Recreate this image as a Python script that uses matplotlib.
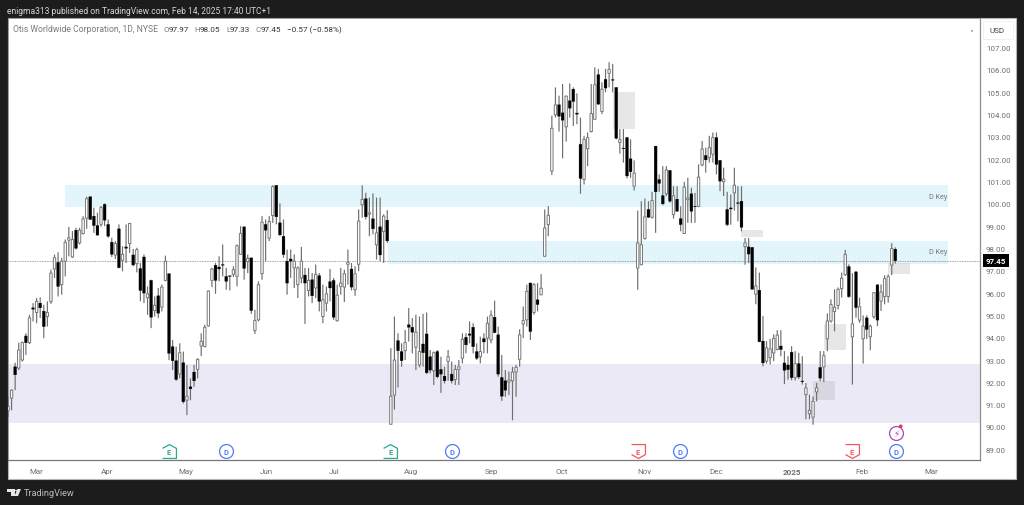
import matplotlib
matplotlib.use("Agg")
import matplotlib.pyplot as plt
from matplotlib.patches import Rectangle, Polygon, Circle

plt.rcParams['font.family'] = ['Roboto', 'DejaVu Sans']

# daily OHLC, Otis 1D
opens = [
    90.72, 91.29, 92.70, 92.64, 93.00, 94.08, 93.78, 95.34, 95.13, 95.55,
    95.19, 94.95, 95.61, 97.08, 97.38, 96.38, 97.43, 98.37, 97.62, 98.82,
    98.25, 98.67, 99.36, 100.32, 99.45, 99.03, 99.08, 99.98, 99.08, 98.28,
    97.71, 98.88, 97.47, 98.07, 98.22, 97.71, 97.32, 97.10, 97.62, 95.79,
    96.57, 95.22, 95.88, 95.37, 96.57, 96.87, 93.60, 92.97, 92.37, 92.88,
    91.20, 91.80, 92.46, 92.58, 93.63, 93.60, 94.53, 96.57, 97.25, 97.17,
    97.28, 96.75, 96.78, 96.84, 96.75, 97.74, 98.97, 97.41, 97.58, 94.32,
    94.80, 96.87, 99.08, 98.46, 99.48, 100.83, 99.15, 98.55, 97.43, 97.53,
    97.13, 96.38, 96.68, 96.81, 96.12, 96.60, 96.23, 96.78, 94.95, 95.55,
    96.51, 96.57, 94.76, 96.30, 96.27, 97.29, 97.08, 96.15, 97.29, 99.96,
    100.23, 99.54, 99.33, 98.16, 98.97, 98.76, 99.27, 90.12, 91.43, 93.87,
    93.38, 93.42, 94.58, 94.47, 93.57, 92.78, 93.72, 94.17, 93.15, 92.52,
    93.38, 92.58, 92.28, 92.94, 92.37, 92.13, 92.58, 93.08, 94.02, 94.17,
    94.47, 93.38, 93.15, 93.96, 93.98, 93.90, 94.92, 94.13, 92.22, 92.07,
    92.01, 92.07, 92.46, 93.03, 94.62, 94.80, 96.45, 95.13, 95.70, 95.92,
    97.65, 99.07, 101.47, 103.99, 104.44, 104.08, 103.45, 104.62, 105.14, 104.07,
    102.67, 101.09, 102.47, 103.24, 103.79, 105.79, 104.14, 105.58, 105.85, 105.57,
    105.22, 102.75, 102.50, 102.97, 102.02, 100.79, 97.12, 97.27, 98.44, 99.75,
    99.40, 102.59, 101.09, 100.37, 100.45, 101.50, 99.52, 100.21, 99.34, 98.67,
    100.19, 100.45, 99.89, 99.89, 101.74, 102.17, 102.07, 102.22, 102.97, 101.95,
    100.99, 99.75, 99.82, 100.49, 100.05, 100.12, 98.08, 98.07, 98.05, 95.95,
    96.13, 93.85, 92.95, 93.11, 93.32, 93.47, 93.63, 92.87, 92.78, 93.35,
    92.22, 92.84, 92.06, 91.45, 90.59, 90.44, 91.57, 92.67, 92.69, 93.95,
    94.75, 95.17, 95.45, 96.20, 96.82, 97.19, 94.04, 96.95, 94.79, 93.95,
    94.89, 94.04, 94.94, 96.37, 95.64, 95.84, 95.84, 97.25, 97.97,
]
highs = [
    91.35, 91.68, 92.88, 93.78, 93.83, 94.20, 95.03, 95.55, 95.78, 95.81,
    95.48, 95.63, 97.05, 97.73, 97.83, 97.58, 98.40, 98.97, 98.78, 98.93,
    98.93, 99.45, 100.32, 100.32, 99.83, 99.60, 99.90, 100.02, 99.30, 98.48,
    98.33, 99.08, 98.10, 99.08, 99.15, 97.98, 98.03, 97.35, 97.73, 96.30,
    96.60, 95.85, 96.23, 96.38, 97.68, 96.87, 93.90, 93.60, 93.75, 93.38,
    92.78, 92.18, 92.78, 93.08, 94.20, 94.58, 96.12, 97.13, 97.35, 97.65,
    98.18, 97.13, 96.78, 97.20, 98.18, 99.00, 98.97, 97.73, 97.58, 95.25,
    96.53, 99.45, 99.30, 99.45, 100.83, 100.83, 100.02, 99.30, 97.95, 97.95,
    97.73, 97.20, 98.07, 97.13, 97.13, 96.90, 97.28, 96.90, 96.38, 96.30,
    97.08, 96.68, 96.38, 97.13, 97.05, 97.95, 97.35, 97.20, 99.75, 100.83,
    100.50, 100.28, 100.47, 100.28, 100.28, 99.53, 99.72, 93.53, 94.95, 94.20,
    93.75, 94.35, 95.33, 94.88, 95.03, 94.95, 95.07, 95.13, 93.45, 93.38,
    93.45, 93.15, 92.70, 93.45, 92.93, 92.78, 93.00, 94.20, 94.20, 94.73,
    94.65, 93.75, 94.05, 94.20, 94.95, 95.22, 95.66, 94.50, 93.23, 92.55,
    92.48, 92.70, 92.78, 94.38, 95.40, 96.38, 96.48, 96.45, 96.45, 96.85,
    99.75, 99.90, 103.95, 105.22, 104.85, 105.37, 104.85, 105.40, 105.22, 104.95,
    103.87, 103.05, 103.20, 105.37, 106.12, 106.05, 105.45, 106.05, 106.35, 106.27,
    105.22, 103.35, 103.35, 103.00, 102.89, 101.95, 99.70, 100.12, 100.24, 100.12,
    100.54, 102.59, 101.32, 101.69, 101.69, 101.50, 100.79, 100.79, 99.89, 100.99,
    101.17, 100.72, 100.49, 101.77, 102.82, 102.52, 103.05, 103.20, 103.20, 101.95,
    101.62, 100.54, 100.42, 101.62, 100.79, 100.79, 98.47, 98.47, 98.05, 97.15,
    96.92, 94.97, 93.85, 93.95, 94.15, 94.34, 94.34, 93.40, 93.17, 93.62,
    93.40, 93.32, 93.17, 91.97, 91.45, 91.37, 91.97, 93.40, 93.40, 95.09,
    95.72, 96.17, 96.25, 96.92, 97.94, 97.29, 96.89, 96.99, 95.79, 95.00,
    95.00, 94.59, 96.05, 96.39, 96.39, 96.80, 96.84, 98.24, 98.05,
]
lows = [
    90.45, 90.75, 91.65, 92.55, 92.93, 93.23, 93.72, 94.73, 94.65, 94.88,
    93.98, 94.50, 95.52, 96.68, 95.85, 95.93, 96.75, 97.65, 97.58, 97.95,
    98.18, 98.63, 98.88, 99.30, 98.70, 98.58, 98.97, 99.00, 98.48, 97.62,
    97.53, 97.11, 96.98, 97.35, 97.80, 97.20, 96.93, 95.63, 95.55, 95.03,
    94.43, 94.95, 94.88, 95.18, 96.53, 93.00, 92.55, 92.07, 92.18, 91.05,
    90.53, 91.20, 91.80, 92.18, 93.18, 93.57, 94.50, 96.27, 95.97, 96.53,
    96.75, 96.15, 96.12, 96.72, 96.30, 97.73, 96.60, 96.90, 95.07, 94.17,
    94.73, 96.60, 97.43, 98.33, 99.15, 99.08, 98.55, 97.58, 95.93, 96.68,
    96.23, 95.78, 96.45, 94.62, 95.85, 95.55, 95.78, 95.18, 94.65, 95.18,
    95.63, 94.80, 94.73, 95.93, 95.60, 96.38, 96.12, 95.88, 96.98, 99.38,
    99.30, 98.55, 98.63, 97.50, 97.43, 97.35, 98.25, 90.12, 90.78, 91.77,
    92.70, 93.00, 93.83, 93.30, 92.55, 92.67, 92.70, 92.37, 92.40, 91.88,
    92.18, 91.53, 91.95, 92.07, 91.95, 91.88, 91.88, 92.85, 93.30, 93.75,
    93.30, 93.00, 92.85, 93.30, 93.30, 93.75, 94.20, 92.25, 91.17, 91.35,
    91.43, 90.30, 91.35, 92.70, 93.98, 94.50, 93.90, 95.03, 95.18, 95.92,
    97.65, 98.55, 101.29, 103.87, 103.24, 102.04, 102.79, 103.87, 103.49, 103.57,
    100.45, 100.87, 101.69, 103.20, 103.79, 104.44, 104.02, 105.00, 105.22, 105.00,
    102.89, 102.25, 101.85, 101.14, 101.17, 100.60, 96.15, 97.27, 98.40, 99.37,
    99.34, 98.70, 100.54, 99.94, 100.35, 100.05, 99.34, 99.64, 98.77, 98.65,
    99.15, 99.15, 99.15, 99.85, 101.69, 101.40, 101.85, 101.85, 101.32, 100.57,
    100.35, 99.00, 99.07, 99.70, 99.22, 98.77, 97.27, 97.35, 96.17, 95.50,
    93.80, 92.72, 92.84, 92.80, 92.95, 93.44, 93.17, 91.92, 92.12, 92.09,
    92.09, 92.15, 91.90, 90.35, 90.35, 90.10, 91.15, 92.05, 92.01, 93.40,
    94.67, 94.29, 95.27, 95.80, 96.77, 95.79, 91.90, 94.90, 94.67, 92.84,
    93.95, 93.44, 94.85, 94.52, 95.20, 95.50, 95.57, 96.80, 97.33,
]
closes = [
    90.93, 91.65, 92.34, 93.45, 93.78, 93.78, 94.89, 95.28, 95.63, 95.34,
    94.50, 95.13, 96.90, 97.59, 96.30, 97.43, 98.28, 98.48, 98.40, 98.01,
    98.82, 99.33, 100.23, 99.30, 99.03, 98.60, 99.84, 99.27, 98.55, 97.74,
    98.22, 97.14, 97.74, 98.01, 99.12, 97.26, 97.95, 96.12, 96.00, 95.97,
    94.92, 95.46, 95.10, 96.27, 97.43, 93.30, 92.97, 92.13, 93.33, 91.13,
    91.38, 91.71, 92.07, 93.03, 93.84, 94.47, 96.09, 97.08, 96.57, 97.08,
    97.25, 96.53, 96.75, 97.05, 98.13, 98.67, 97.11, 97.56, 95.22, 94.77,
    96.38, 99.18, 98.82, 99.21, 100.77, 99.42, 98.61, 97.73, 96.45, 97.43,
    97.43, 97.13, 97.43, 96.45, 96.57, 95.88, 96.84, 95.63, 95.70, 95.97,
    96.23, 94.92, 95.91, 96.45, 96.87, 97.38, 96.27, 96.87, 99.23, 100.20,
    99.42, 99.60, 98.88, 98.70, 97.71, 99.45, 98.34, 91.38, 93.00, 93.42,
    92.97, 93.78, 94.47, 94.25, 94.25, 93.38, 93.33, 92.43, 92.55, 93.33,
    92.25, 92.37, 92.07, 93.15, 92.07, 92.58, 92.70, 93.93, 93.68, 94.11,
    93.60, 93.08, 93.38, 93.81, 94.65, 95.01, 94.23, 92.37, 91.38, 91.65,
    92.10, 92.46, 92.67, 94.13, 94.77, 96.08, 94.28, 96.38, 95.49, 96.22,
    98.92, 99.49, 103.39, 104.44, 103.93, 103.75, 104.83, 104.29, 104.59, 104.02,
    101.14, 102.89, 102.97, 104.05, 105.34, 104.47, 105.14, 105.19, 106.03, 105.54,
    102.94, 102.88, 102.47, 101.25, 101.44, 101.38, 98.25, 98.17, 99.42, 99.40,
    100.15, 100.54, 100.92, 100.00, 101.52, 100.12, 100.36, 99.67, 99.07, 100.75,
    100.27, 99.67, 99.87, 101.20, 102.46, 101.97, 102.52, 102.97, 101.77, 101.02,
    101.11, 99.07, 99.77, 100.84, 100.02, 98.95, 98.25, 97.75, 96.17, 96.32,
    93.82, 92.87, 93.55, 93.50, 93.97, 94.12, 93.47, 92.54, 92.57, 92.21,
    92.84, 92.24, 92.03, 91.75, 90.74, 91.15, 91.75, 92.19, 93.20, 94.75,
    95.49, 95.37, 96.17, 96.67, 97.74, 95.84, 94.62, 95.35, 95.39, 94.52,
    94.37, 94.52, 96.02, 94.79, 96.05, 96.65, 96.74, 98.00, 97.45,
]

price_ticks = [89, 90, 91, 92, 93, 94, 95, 96, 97, 98, 99, 100, 101, 102, 103, 104, 105, 106, 107]
month_labels = ["Mar", "Apr", "May", "Jun", "Jul", "Aug", "Sep", "Oct", "Nov", "Dec", "2025", "Feb", "Mar"]
month_pos = [7.8, 27.7, 49.8, 72.1, 91.1, 112.6, 135.0, 154.8, 178.0, 197.9, 219.1, 238.7, 258.0]

# zones: start bar, end bar, low, high
key_start = [15.9, 106.2]
key_end = [262.7, 262.7]
key_low = [99.86, 97.32]
key_high = [100.85, 98.35]
key_label_y = [100.35, 97.85]

demand_low = 90.18
demand_high = 92.82

gap_start = [169.0, 204.9, 228.0, 225.0, 246.0]
gap_end = [175.2, 211.0, 234.1, 231.1, 252.1]
gap_low = [103.37, 98.53, 93.44, 91.21, 96.84]
gap_high = [105.00, 98.81, 94.63, 92.06, 97.34]

earnings_up = [45.0, 106.8]
earnings_down = [176.0, 235.9]
dividends = [60.9, 124.1, 187.8, 248.2]
flash_bar = 248.2

W, H = 1024, 506
BG = "#1c1c1c"
GREY = "#6f6f6f"
UP_EDGE = "#777777"
WICK = "#6e6e6e"


def fx(x):
    return x / W


def fy(y):
    return 1 - y / H


fig = plt.figure(figsize=(W / 100, H / 100), dpi=100, facecolor=BG)
fig.add_artist(Rectangle((fx(8), fy(480)), (1016 - 8) / W, (480 - 19) / H, transform=fig.transFigure,
                         fc="white", ec="#b5b5b5", lw=0.8, zorder=-1))

ax = fig.add_axes([fx(8), fy(461), (980 - 8) / W, (461 - 19) / H])
ax.set_xlim(0, 271.66)
ax.set_ylim(88.52, 108.33)
for side in ["top", "left"]:
    ax.spines[side].set_color("#9a9a9a")
    ax.spines[side].set_linewidth(0.7)
ax.spines["right"].set_color("#8f8f8f")
ax.spines["right"].set_linewidth(0.9)
ax.spines["bottom"].set_color("#777777")
ax.spines["bottom"].set_linewidth(0.9)

ax.yaxis.tick_right()
ax.set_yticks(price_ticks)
ax.set_yticklabels([f"{p:.2f}" for p in price_ticks], fontsize=5.7, color=GREY)
ax.tick_params(axis="y", length=0, pad=4.2)
ax.set_xticks(month_pos)
ax.set_xticklabels(month_labels, fontsize=5.8, color=GREY)
ax.get_xticklabels()[10].set_fontweight("bold")
ax.tick_params(axis="x", length=0, pad=6)

# zones
ax.axhspan(demand_low, demand_high, color="#ece9f6", lw=0, zorder=1)
for i in range(2):
    ax.add_patch(Rectangle((key_start[i], key_low[i]), key_end[i] - key_start[i], key_high[i] - key_low[i],
                           fc="#e2f5fa", ec="none", zorder=1))
    ax.text(key_end[i] - 0.3, key_label_y[i], "D Key", fontsize=5.2, color="#777777", ha="right", va="center", zorder=5)
for i in range(5):
    ax.add_patch(Rectangle((gap_start[i], gap_low[i]), gap_end[i] - gap_start[i], gap_high[i] - gap_low[i],
                           fc="#8a8a8a", alpha=0.2, ec="none", zorder=2))

# last price line
ax.axhline(closes[-1], color="#808080", lw=0.6, ls=(0, (1, 1)), zorder=2)

# candles
bars = list(range(len(closes)))
wicks = ax.vlines(bars, lows, highs, color=WICK, lw=0.85, zorder=3)
wicks.set_snap(False)
for i in bars:
    bottom = min(opens[i], closes[i])
    height = abs(closes[i] - opens[i])
    if closes[i] >= opens[i]:
        ax.bar(i, height, 0.66, bottom, fc="white", ec=UP_EDGE, lw=0.7, zorder=4, snap=False)
    else:
        ax.bar(i, height, 0.8, bottom, fc="black", ec="black", lw=0.2, zorder=4, snap=False)

# event marks
icon_y = 88.92
house = [(-1, -1), (1, -1), (1, 0.45), (0, 1), (-1, 0.45)]
vee = [(-1, 1), (1, 1), (1, -0.45), (0, -1), (-1, -0.45)]
ax.scatter(earnings_up, [icon_y] * 2, marker=house, s=100, fc="white", ec="#2aa892", lw=0.9, zorder=6)
ax.scatter(earnings_down, [icon_y] * 2, marker=vee, s=100, fc="white", ec="#f2555f", lw=0.9, zorder=6)
ax.scatter(dividends, [icon_y] * 4, marker="o", s=100, fc="white", ec="#4d7cf5", lw=0.9, zorder=6)
for b in earnings_up:
    ax.text(b, icon_y, "E", fontsize=5.5, fontweight="bold", color="#2aa892", ha="center", va="center", zorder=7)
for b in earnings_down:
    ax.text(b, icon_y, "E", fontsize=5.5, fontweight="bold", color="#f2555f", ha="center", va="center", zorder=7)
for b in dividends:
    ax.text(b, icon_y, "D", fontsize=5.5, fontweight="bold", color="#4d7cf5", ha="center", va="center", zorder=7)
ax.scatter([flash_bar], [89.73], marker="o", s=100, fc="white", ec="#ab47bc", lw=0.9, zorder=6)
ax.text(flash_bar, 89.73, "\u26a1", fontsize=6.5, color="#ab47bc", family="DejaVu Sans", ha="center", va="center", zorder=7)
ax.scatter([flash_bar + 1.3], [90.03], marker="o", s=7, fc="#f23645", ec="none", zorder=8)

# stray dot near the top right of the pane
ax.scatter([269.4], [107.75], marker="o", s=1.2, fc="#555555", ec="none", zorder=3)

# last price tag
ax.text(1 + 6 / 972, closes[-1], f"{closes[-1]:.2f}", transform=ax.get_yaxis_transform(), fontsize=5.7,
        fontweight="bold", color="white", ha="left", va="center", zorder=9, clip_on=False,
        bbox=dict(boxstyle="square,pad=0.35", fc="black", ec="none"))

# header text
fig.text(fx(7), fy(11), "enigma313 published on TradingView.com, Feb 14, 2025 17:40 UTC+1", fontsize=6.15,
         color="#d6d6d6", va="center")
fig.text(fx(13), fy(30), "Otis Worldwide Corporation, 1D, NYSE", fontsize=6.2, color="#7a7a7a", va="center")
legend_x = [163, 168.5, 194, 199.5, 226, 230, 256, 261, 287]
legend_txt = ["O", "97.97", "H", "98.05", "L", "97.33", "C", "97.45", "\u22120.57 (\u22120.58%)"]
for i in range(len(legend_x)):
    fig.text(fx(legend_x[i]), fy(30), legend_txt[i], fontsize=5.85, va="center",
             color="#7a7a7a" if i in (0, 2, 4, 6) else "#333333")

# USD button
fig.add_artist(Rectangle((fx(983), fy(40)), 30 / W, 18 / H, transform=fig.transFigure, fc="white", ec="#eeeeee", lw=0.6))
fig.text(fx(997), fy(31), "USD", fontsize=5.9, color="#444444", ha="center", va="center")

# footer logo
logo = "#e6e6e6"
fig.add_artist(Polygon([(fx(7), fy(490)), (fx(15), fy(490)), (fx(15), fy(497)), (fx(11), fy(497)),
                        (fx(11), fy(493)), (fx(7), fy(493))], transform=fig.transFigure, fc=logo, ec="none"))
fig.add_artist(Polygon([(fx(17.5), fy(490)), (fx(21), fy(490)), (fx(18), fy(497)), (fx(14.5), fy(497))],
                       transform=fig.transFigure, fc=logo, ec="none"))
fig.add_artist(Circle((fx(16.2), fy(491.5)), 1.3 / W, transform=fig.transFigure, fc=logo, ec="none"))
fig.text(fx(24), fy(493.5), "TradingView", fontsize=6.6, color="#bdbdbd", va="center")

fig.savefig("out.png", dpi=100, facecolor=BG)
